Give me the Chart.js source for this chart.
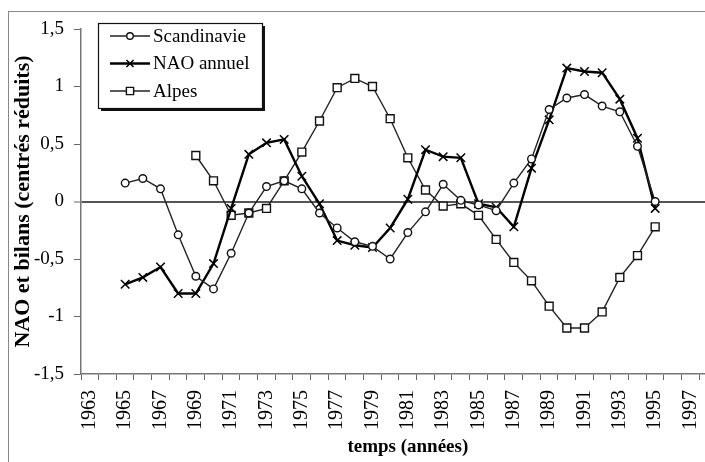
<!DOCTYPE html>
<html>
<head>
<meta charset="utf-8">
<script src="https://cdn.jsdelivr.net/npm/chart.js@4"></script>
<style>
  html, body { margin: 0; padding: 0; background: #fff; }
  #wrap { position: relative; width: 705px; height: 462px; overflow: hidden; }
  #frame { position: absolute; left: 8px; top: 11px; width: 800px; height: 500px;
           border-left: 1px solid #888; border-top: 1px solid #888; }
  #chart { position: absolute; left: 0; top: 0; }
</style>
</head>
<body>
<div id="wrap">
  <div id="frame"></div>
  <canvas id="chart" width="760" height="462"></canvas>
</div>
<script>
const YEARS = [];
for (let y = 1963; y <= 1999; y++) YEARS.push(String(y));

// values, 1963 .. 1999 (null = no value)
const SCANDINAVIE = [null, null,
  0.16, 0.20, 0.11, -0.29, -0.65, -0.76, -0.45, -0.10, 0.13, 0.18,
  0.11, -0.10, -0.23, -0.35, -0.39, -0.50, -0.27, -0.09, 0.15, 0.01,
  -0.03, -0.08, 0.16, 0.37, 0.80, 0.90, 0.93, 0.83, 0.78, 0.48,
  0.00, null, null, null, null];

const NAO_ANNUEL = [null, null,
  -0.72, -0.66, -0.57, -0.80, -0.80, -0.54, -0.06, 0.41, 0.51, 0.54,
  0.22, -0.02, -0.34, -0.38, -0.40, -0.23, 0.02, 0.45, 0.39, 0.38,
  -0.02, -0.05, -0.22, 0.29, 0.71, 1.16, 1.13, 1.12, 0.89, 0.55,
  -0.06, null, null, null, null];

const ALPES = [null, null, null, null, null, null,
  0.40, 0.18, -0.12, -0.10, -0.06, 0.18,
  0.43, 0.70, 0.99, 1.07, 1.00, 0.72, 0.38, 0.10, -0.04, -0.02,
  -0.12, -0.33, -0.53, -0.69, -0.91, -1.10, -1.10, -0.96, -0.66, -0.47,
  -0.22, null, null, null, null];

const Y_TICKS = [-1.5, -1, -0.5, 0, 0.5, 1, 1.5];

const SERIF = '"Liberation Serif", "Times New Roman", serif';

const legendBox = {
  id: 'legendBox',
  afterDraw(chart) {
    const ctx = chart.ctx;
    const x = 98, y = 23, w = 164, h = 85;
    ctx.save();
    ctx.fillStyle = '#111';
    ctx.fillRect(x + 3, y + 3, w, h);
    ctx.fillStyle = '#fff';
    ctx.fillRect(x, y, w, h);
    ctx.strokeStyle = '#111';
    ctx.lineWidth = 1.2;
    ctx.strokeRect(x + 0.5, y + 0.5, w, h);

    chart.data.datasets.forEach((ds, i) => {
      const cy = 36 + i * 27.5;
      ctx.strokeStyle = ds.borderColor;
      ctx.lineWidth = ds.borderWidth;
      ctx.beginPath();
      ctx.moveTo(110, cy);
      ctx.lineTo(150, cy);
      ctx.stroke();
      ctx.fillStyle = '#fff';
      ctx.strokeStyle = ds.pointBorderColor;
      ctx.lineWidth = ds.pointBorderWidth;
      Chart.helpers.drawPoint(ctx, {
        pointStyle: ds.pointStyle,
        radius: ds.pointStyle === 'crossRot' ? 5 : ds.pointRadius - 0.5,
        rotation: 0,
        borderWidth: ds.pointBorderWidth
      }, 130, cy);
      ctx.fillStyle = '#000';
      ctx.font = '19px ' + SERIF;
      ctx.textBaseline = 'middle';
      ctx.fillText(ds.label, 153, cy + 1);
    });
    ctx.restore();
  }
};

new Chart(document.getElementById('chart'), {
  type: 'line',
  data: {
    labels: YEARS,
    datasets: [
      {
        label: 'Scandinavie',
        data: SCANDINAVIE,
        borderColor: '#222',
        borderWidth: 1.4,
        pointStyle: 'circle',
        pointRadius: 3.8,
        pointBackgroundColor: '#fff',
        pointBorderColor: '#111',
        pointBorderWidth: 1.4,
        tension: 0
      },
      {
        label: 'NAO annuel',
        data: NAO_ANNUEL,
        borderColor: '#000',
        borderWidth: 2.4,
        pointStyle: 'crossRot',
        pointRadius: 6,
        pointBorderColor: '#000',
        pointBorderWidth: 1.5,
        tension: 0
      },
      {
        label: 'Alpes',
        data: ALPES,
        borderColor: '#222',
        borderWidth: 1.4,
        pointStyle: 'rect',
        pointRadius: 5.6,
        pointBackgroundColor: '#fff',
        pointBorderColor: '#111',
        pointBorderWidth: 1.4,
        tension: 0
      }
    ]
  },
  options: {
    responsive: false,
    animation: false,
    layout: { padding: { top: 29, right: 13, bottom: 0, left: 0 } },
    plugins: {
      legend: { display: false },
      tooltip: { enabled: false }
    },
    scales: {
      x: {
        type: 'category',
        offset: true,
        grid: {
          offset: true,
          drawOnChartArea: false,
          tickLength: 6,
          tickColor: '#666',
          tickWidth: 1
        },
        border: { color: '#777', width: 1.5 },
        ticks: {
          autoSkip: false,
          minRotation: 90,
          maxRotation: 90,
          padding: 10,
          color: '#000',
          font: { family: SERIF, size: 20 },
          callback: (v, i) => (i % 2 === 0 ? YEARS[i] : '')
        },
        title: {
          display: true,
          text: 'temps (années)',
          color: '#000',
          font: { family: SERIF, size: 19, weight: 'bold' },
          padding: { top: 0, bottom: 4 }
        },
        afterFit: scale => { scale.height = 88; }
      },
      y: {
        min: -1.5,
        max: 1.5,
        afterBuildTicks: scale => { scale.ticks = Y_TICKS.map(v => ({ value: v })); },
        grid: {
          drawOnChartArea: true,
          color: c => (c.tick && c.tick.value === 0 ? '#555' : 'rgba(0,0,0,0)'),
          lineWidth: c => (c.tick && c.tick.value === 0 ? 2 : 1),
          tickLength: 7,
          tickColor: '#666',
          tickWidth: 1
        },
        border: { color: '#777', width: 1.5 },
        ticks: {
          padding: 10,
          color: '#000',
          font: { family: SERIF, size: 19 },
          callback: v => String(v).replace('.', ',')
        },
        title: {
          display: true,
          text: 'NAO et bilans (centrés réduits)',
          color: '#000',
          font: { family: SERIF, size: 22, weight: 'bold' },
          padding: { top: 10, bottom: 0 }
        },
        afterFit: scale => { scale.width = 81; }
      }
    }
  },
  plugins: [legendBox]
});
</script>
</body>
</html>
